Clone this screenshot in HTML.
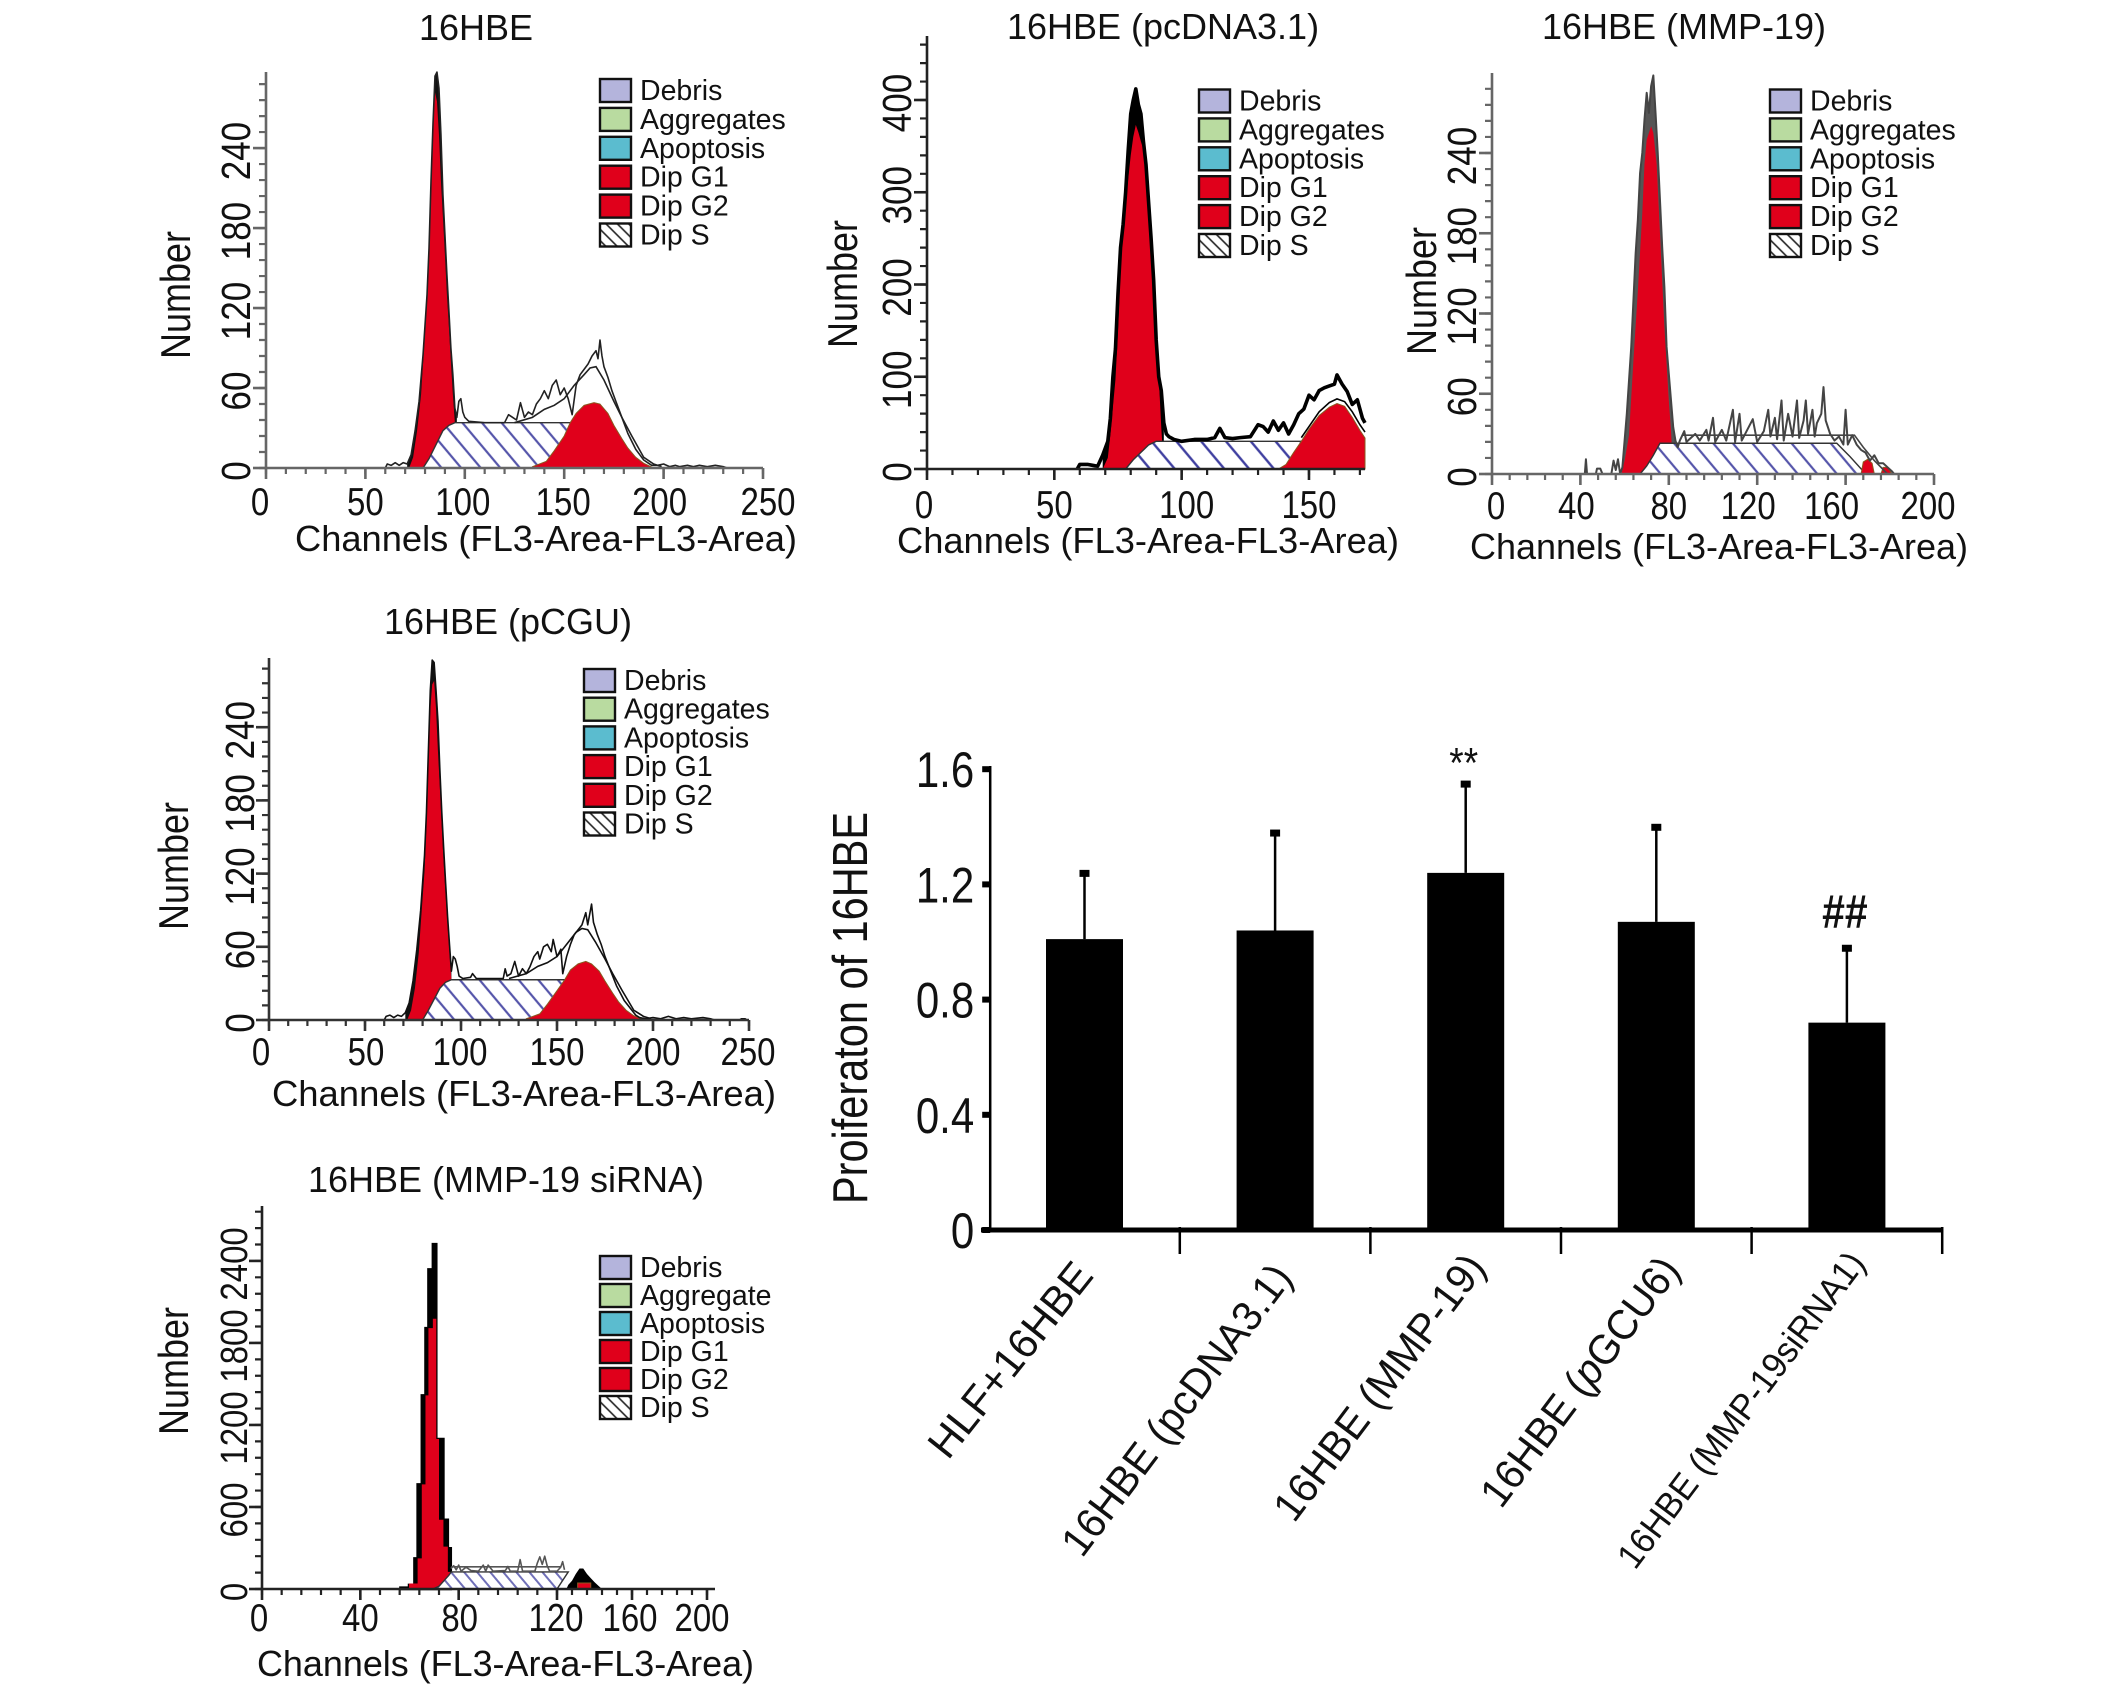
<!DOCTYPE html>
<html lang="en">
<head>
<meta charset="utf-8">
<title>16HBE cell cycle and proliferation</title>
<style>
html,body{margin:0;padding:0;background:#fff;}
svg{display:block;font-family:"Liberation Sans",Arial,sans-serif;fill:#111;}
.ttl{font-size:36px;text-anchor:middle;}
.axt{font-size:36px;}
.leg{font-size:28.5px;}
.sw{stroke:#111;stroke-width:2.4;}
.deb{fill:#b4b4dc;}.agg{fill:#b9dba0;}.apo{fill:#5bbccf;}.red{fill:#e0001b;}.hat{fill:url(#hatchLegend);}
.cat{font-size:42px;}
</style>
</head>
<body>
<svg id="fig" xmlns="http://www.w3.org/2000/svg" width="2126" height="1691" viewBox="0 0 2126 1691">
<defs>
<pattern id="hatchS" width="15" height="15" patternUnits="userSpaceOnUse" patternTransform="rotate(-40)"><rect width="15" height="15" fill="#fff"/><line x1="7.5" y1="0" x2="7.5" y2="15" stroke="#5555aa" stroke-width="2.2"/></pattern>
<pattern id="hatchWide" width="19" height="19" patternUnits="userSpaceOnUse" patternTransform="rotate(-40)"><rect width="19" height="19" fill="#fff"/><line x1="9.5" y1="0" x2="9.5" y2="19" stroke="#3f3fa0" stroke-width="2.4"/></pattern>
<pattern id="hatchFine" width="10" height="10" patternUnits="userSpaceOnUse" patternTransform="rotate(-40)"><rect width="10" height="10" fill="#fff"/><line x1="5" y1="0" x2="5" y2="10" stroke="#7070b8" stroke-width="2"/></pattern>
<pattern id="hatchLegend" width="8" height="8" patternUnits="userSpaceOnUse" patternTransform="rotate(-45)"><rect width="8" height="8" fill="#fff"/><line x1="4" y1="0" x2="4" y2="8" stroke="#222" stroke-width="1.6"/></pattern>
</defs>

<g id="panel-a">
<text class="ttl" x="476" y="40">16HBE</text>
<text class="axt" text-anchor="middle" transform="translate(190,295) rotate(-90) scale(1,1.15)">Number</text>
<text class="axt" x="295" y="551" textLength="502" lengthAdjust="spacingAndGlyphs">Channels (FL3-Area-FL3-Area)</text>
<g class="marks"></g>
<g transform="translate(600,79)">
<g><rect class="sw deb" width="31" height="23"/><text class="leg" x="40" y="21">Debris</text></g>
<g transform="translate(0,28.9)"><rect class="sw agg" width="31" height="23"/><text class="leg" x="40" y="21">Aggregates</text></g>
<g transform="translate(0,57.8)"><rect class="sw apo" width="31" height="23"/><text class="leg" x="40" y="21">Apoptosis</text></g>
<g transform="translate(0,86.7)"><rect class="sw red" width="31" height="23"/><text class="leg" x="40" y="21">Dip G1</text></g>
<g transform="translate(0,115.6)"><rect class="sw red" width="31" height="23"/><text class="leg" x="40" y="21">Dip G2</text></g>
<g transform="translate(0,144.5)"><rect class="sw hat" width="31" height="23"/><text class="leg" x="40" y="21">Dip S</text></g>
</g>
</g>

<g id="panel-b">
<text class="ttl" x="1163" y="39">16HBE (pcDNA3.1)</text>
<text class="axt" text-anchor="middle" transform="translate(857,284) rotate(-90) scale(1,1.15)">Number</text>
<text class="axt" x="897" y="553" textLength="502" lengthAdjust="spacingAndGlyphs">Channels (FL3-Area-FL3-Area)</text>
<g class="marks"></g>
<g transform="translate(1199,89.5)">
<g><rect class="sw deb" width="31" height="23"/><text class="leg" x="40" y="21">Debris</text></g>
<g transform="translate(0,28.9)"><rect class="sw agg" width="31" height="23"/><text class="leg" x="40" y="21">Aggregates</text></g>
<g transform="translate(0,57.8)"><rect class="sw apo" width="31" height="23"/><text class="leg" x="40" y="21">Apoptosis</text></g>
<g transform="translate(0,86.7)"><rect class="sw red" width="31" height="23"/><text class="leg" x="40" y="21">Dip G1</text></g>
<g transform="translate(0,115.6)"><rect class="sw red" width="31" height="23"/><text class="leg" x="40" y="21">Dip G2</text></g>
<g transform="translate(0,144.5)"><rect class="sw hat" width="31" height="23"/><text class="leg" x="40" y="21">Dip S</text></g>
</g>
</g>

<g id="panel-c">
<text class="ttl" x="1684" y="39">16HBE (MMP-19)</text>
<text class="axt" text-anchor="middle" transform="translate(1436,291) rotate(-90) scale(1,1.15)">Number</text>
<text class="axt" x="1470" y="559" textLength="498" lengthAdjust="spacingAndGlyphs">Channels (FL3-Area-FL3-Area)</text>
<g class="marks"></g>
<g transform="translate(1770,89.5)">
<g><rect class="sw deb" width="31" height="23"/><text class="leg" x="40" y="21">Debris</text></g>
<g transform="translate(0,28.9)"><rect class="sw agg" width="31" height="23"/><text class="leg" x="40" y="21">Aggregates</text></g>
<g transform="translate(0,57.8)"><rect class="sw apo" width="31" height="23"/><text class="leg" x="40" y="21">Apoptosis</text></g>
<g transform="translate(0,86.7)"><rect class="sw red" width="31" height="23"/><text class="leg" x="40" y="21">Dip G1</text></g>
<g transform="translate(0,115.6)"><rect class="sw red" width="31" height="23"/><text class="leg" x="40" y="21">Dip G2</text></g>
<g transform="translate(0,144.5)"><rect class="sw hat" width="31" height="23"/><text class="leg" x="40" y="21">Dip S</text></g>
</g>
</g>

<g id="panel-d">
<text class="ttl" x="508" y="634">16HBE (pCGU)</text>
<text class="axt" text-anchor="middle" transform="translate(188,866) rotate(-90) scale(1,1.15)">Number</text>
<text class="axt" x="272" y="1106" textLength="504" lengthAdjust="spacingAndGlyphs">Channels (FL3-Area-FL3-Area)</text>
<g class="marks"></g>
<g transform="translate(584,669)">
<g><rect class="sw deb" width="31" height="23"/><text class="leg" x="40" y="21">Debris</text></g>
<g transform="translate(0,28.7)"><rect class="sw agg" width="31" height="23"/><text class="leg" x="40" y="21">Aggregates</text></g>
<g transform="translate(0,57.4)"><rect class="sw apo" width="31" height="23"/><text class="leg" x="40" y="21">Apoptosis</text></g>
<g transform="translate(0,86.1)"><rect class="sw red" width="31" height="23"/><text class="leg" x="40" y="21">Dip G1</text></g>
<g transform="translate(0,114.8)"><rect class="sw red" width="31" height="23"/><text class="leg" x="40" y="21">Dip G2</text></g>
<g transform="translate(0,143.5)"><rect class="sw hat" width="31" height="23"/><text class="leg" x="40" y="21">Dip S</text></g>
</g>
</g>

<g id="panel-e">
<text class="ttl" x="506" y="1192">16HBE (MMP-19 siRNA)</text>
<text class="axt" text-anchor="middle" transform="translate(188,1371) rotate(-90) scale(1,1.15)">Number</text>
<text class="axt" x="257" y="1676" textLength="497" lengthAdjust="spacingAndGlyphs">Channels (FL3-Area-FL3-Area)</text>
<g class="marks"></g>
<g transform="translate(600,1256)">
<g><rect class="sw deb" width="31" height="23"/><text class="leg" x="40" y="21">Debris</text></g>
<g transform="translate(0,28)"><rect class="sw agg" width="31" height="23"/><text class="leg" x="40" y="21">Aggregate</text></g>
<g transform="translate(0,56)"><rect class="sw apo" width="31" height="23"/><text class="leg" x="40" y="21">Apoptosis</text></g>
<g transform="translate(0,84)"><rect class="sw red" width="31" height="23"/><text class="leg" x="40" y="21">Dip G1</text></g>
<g transform="translate(0,112)"><rect class="sw red" width="31" height="23"/><text class="leg" x="40" y="21">Dip G2</text></g>
<g transform="translate(0,140)"><rect class="sw hat" width="31" height="23"/><text class="leg" x="40" y="21">Dip S</text></g>
</g>
</g>

<g id="bar-chart">
<text font-size="41" text-anchor="middle" textLength="392" lengthAdjust="spacingAndGlyphs" transform="translate(867,1008) rotate(-90) scale(1,1.2)">Proiferaton of 16HBE</text>
<g class="marks"></g>
<text class="cat" transform="translate(948,1461) rotate(-51.5)" textLength="236" lengthAdjust="spacingAndGlyphs">HLF+16HBE</text>
<text class="cat" transform="translate(1082,1559) rotate(-53)" textLength="352" lengthAdjust="spacingAndGlyphs">16HBE (pcDNA3.1)</text>
<text class="cat" transform="translate(1294,1524) rotate(-53)" textLength="321" lengthAdjust="spacingAndGlyphs">16HBE (MMP-19)</text>
<text class="cat" transform="translate(1501,1510) rotate(-53)" textLength="300" lengthAdjust="spacingAndGlyphs">16HBE (<tspan font-style="italic">p</tspan>GCU6)</text>
<text class="cat" style="font-size:36px" transform="translate(1635,1571) rotate(-53)" textLength="385" lengthAdjust="spacingAndGlyphs">16HBE (MMP-19siRNA1)</text>
</g>
</svg>

<script>
// ---- Panel A: 16HBE ([channel, count] readings) ----
const aXTicks = [0, 50, 100, 150, 200, 250];
const aYTicks = [0, 60, 120, 180, 240];
const aOutline = [[60,0],[61,3],[63,2],[65,4],[67,2],[69,4],[71,3],[73,10],[75,28],[77,50],[79,85],[81,130],[82,165],[83,215],[84,258],[85,294],[86,297],[87,285],[88,250],[89,205],[90,175],[91,145],[92,118],[93,90],[94,70],[95,45],[96,38],[97,50],[98,52],[99,42],[100,38],[102,35],[110,34],[120,34],[122,40],[124,38],[126,36],[128,49],[130,38],[132,42],[134,40],[136,48],[138,52],[140,58],[142,52],[144,62],[146,66],[148,55],[150,60],[152,52],[154,40],[156,62],[158,70],[160,74],[162,78],[164,84],[166,88],[167,82],[168,96],[169,84],[170,76],[172,68],[174,58],[176,50],[178,42],[180,34],[182,26],[184,20],[186,14],[188,10],[190,6],[192,4],[194,2],[197,2],[200,3],[203,1],[206,2],[208,1],[212,2],[215,1],[218,2],[222,1],[226,2],[230,1],[232,0]];
const aFit = [[125,34],[134,38],[140,44],[145,47],[150,52],[155,62],[160,70],[163,75],[166,76],[170,66],[175,50],[179,38],[184,24],[190,8],[195,3],[199,1]];
const aG1 = [[72,0],[74,8],[76,28],[78,55],[79,79],[81,125],[82,161],[83,215],[84,265],[85,282],[86,275],[87,250],[88,215],[89,188],[90,160],[91,130],[92,106],[93,80],[94,55],[95,34],[96,0]];
const aS = [[79,0],[82,7],[85,16],[89,28],[92,32],[95,34],[153,34],[153,0]];
const aG2 = [[134,1],[141,5],[145,13],[150,24],[153,34],[156,41],[160,47],[165,49],[168,48],[172,41],[175,32],[179,22],[182,15],[186,8],[190,3.5],[195,0]];

// ---- Panel B: 16HBE (pcDNA3.1) ----
const bXTicks = [0, 50, 100, 150];
const bYTicks = [0, 100, 200, 300, 400];
const bOutline = [[59,0],[60,5],[63,5],[65,4],[67,3],[69,15],[71,30],[72,55],[73,100],[74,130],[75,190],[76,240],[77,265],[78,300],[79,345],[80,385],[81,400],[82,412],[83,395],[84,385],[85,355],[86,330],[87,290],[88,250],[89,205],[90,140],[91,100],[92,85],[93,50],[94,38],[95,35],[97,32],[100,30],[105,32],[110,32],[113,34],[115,44],[117,34],[120,33],[123,34],[127,35],[130,48],[132,46],[134,40],[136,52],[138,42],[140,50],[142,38],[144,48],[146,60],[148,65],[150,80],[152,75],[154,85],[156,88],[158,90],[160,92],[161,102],[163,92],[165,84],[167,70],[169,75],[171,55],[172,50]];
const bFit = [[147,34],[150,46],[154,62],[158,72],[161,76],[164,73],[167,62],[170,48],[172,40]];
const bG1 = [[69,0],[71,12],[72,37],[74,97],[75,150],[76,215],[77,260],[79,314],[80,340],[81,360],[82,373],[83,365],[84,355],[85,346],[86,310],[87,275],[88,235],[89,195],[90,156],[91,100],[92,45],[93,0]];
const bS = [[78,0],[81,10],[84,18],[87,26],[90,30],[147,30],[147,0]];
const bG2 = [[138,0],[141,5],[144,18],[147,30],[150,43],[154,58],[158,67],[161,71],[164,68],[167,56],[170,42],[172,33.6],[172,0]];

// ---- Panel C: 16HBE (MMP-19) ----
const cXTicks = [0, 40, 80, 120, 160, 200];
const cYTicks = [0, 60, 120, 180, 240];
const cOutline = [[42,0],[42.5,11],[43,0],[47,0],[47.5,4],[49,4],[50,0],[54,0],[55,10],[56,3],[57,11],[58,0],[59,5],[60,25],[61,45],[62,70],[63,95],[64,130],[65,165],[66,190],[67,225],[68,240],[69,265],[70,285],[71,270],[72,290],[73,298],[74,270],[75,240],[76,205],[77,170],[78,140],[79,95],[80,75],[81,55],[82,35],[83,25],[84,20],[85,25],[87,32],[88,24],[92,30],[94,25],[97,33],[98,25],[100,42],[101,24],[104,33],[106,25],[109,48],[110,24],[112,45],[113,25],[118,41],[120,24],[123,32],[125,48],[126,28],[128,42],[129,26],[131,55],[132,25],[134,45],[136,28],[138,55],[139,27],[141,40],[142,55],[143,30],[145,48],[146,28],[147,38],[149,45],[150,65],[151,40],[153,30],[155,25],[157,28],[159,22],[160,48],[161,22],[163,29],[165,22],[167,18],[169,16],[171,10],[173,14],[175,8],[177,8],[179,5],[181,2],[182,0]];
const cFit = [[86,29],[164,29],[168,20],[173,10],[179,0]];
const cG1 = [[58.5,0],[60,10],[62,29],[64,85],[66,137],[68,195],[69,232],[70,250],[72,260],[73,255],[74.5,232],[76,180],[78,110],[80,55],[81,32],[82,0]];
const cS = [[67,0],[70,6],[73,14],[76,23],[156,23],[162,13],[168,2],[168,0]];
const cG2 = [[167,0],[168,9],[170,11],[172,8],[173,0],[176,0],[177,5],[179,5],[181,0]];

// ---- Panel D: 16HBE (pCGU) ----
const dXTicks = [0, 50, 100, 150, 200, 250];
const dYTicks = [0, 60, 120, 180, 240];
const dOutline = [[60,0],[61,3],[63,4],[65,2],[67,4],[69,3],[71,6],[73,14],[75,32],[77,58],[79,90],[81,135],[82,170],[83,220],[84,270],[85,295],[86,293],[87,270],[88,245],[89,205],[90,170],[91,140],[92,112],[93,85],[94,62],[95,40],[96,52],[97,50],[98,44],[99,36],[101,34],[105,35],[106,38],[108,34],[122,34],[123,42],[124,36],[126,38],[128,48],[130,36],[132,42],[134,38],[136,44],[138,52],[140,56],[141,50],[143,60],[145,62],[147,56],[148,66],[150,52],[152,58],[153,38],[155,52],[157,62],[159,70],[161,74],[163,78],[165,88],[166,78],[168,95],[169,80],[171,70],[173,62],[175,52],[177,44],[179,36],[181,28],[183,22],[185,16],[187,12],[189,8],[191,4],[193,2],[196,1],[200,2],[204,1],[208,3],[212,1],[216,2],[220,1],[226,2],[230,1],[232,0],[245,0],[246,1],[248,1],[249,0]];
const dFit = [[125,34],[134,38],[140,44],[145,47],[150,52],[155,62],[160,72],[163,75],[166,74],[170,64],[175,50],[179,38],[184,24],[190,8],[195,3],[199,1]];
const dG1 = [[72,0],[74,8],[76,26],[78,55],[79,78],[81,122],[82,160],[83,210],[84,255],[85,275],[86,278],[87,255],[88,220],[89,190],[90,158],[91,128],[92,102],[93,78],[94,55],[95,33],[96,0]];
const dS = [[80,0],[83,8],[86,17],[89,26],[92,31],[95,33],[154,33],[154,0]];
const dG2 = [[134,1],[141,5],[145,13],[150,24],[154,33],[157,41],[161,46],[165,48],[168,46],[172,40],[175,32],[179,22],[182,15],[186,8],[190,3.5],[195,0]];

// ---- Panel E: 16HBE (MMP-19 siRNA) ----
const eXTicks = [0, 40, 80, 120, 160, 200];
const eYTicks = [0, 600, 1200, 1800, 2400];
const eOutline = [[56.3,10],[59.8,30],[62,224],[63.3,765],[65,1416],[66.5,1908],[67.7,2338],[69.5,2523],[70.9,1097],[73.8,507],[75.6,298],[76.8,0]];
const eG1 = [[59.8,40],[63.3,224],[65,765],[66.5,1416],[67.7,1908],[69.5,1977],[70.9,1097],[72,507],[73.8,310],[75.6,125],[76.5,0]];
const eS = [[69.5,0],[72,20],[74,60],[76,100],[77,125],[126,125],[120,0]];
const eFit = [[77,162],[122,162]];
const eNoise = [[76.8,150],[78,170],[79,140],[80,175],[81,130],[83,160],[85,135],[88,130],[90,175],[91,130],[92,175],[94,130],[99,135],[100,165],[101,130],[104,130],[105,215],[106,130],[111,130],[112,190],[113,235],[114,180],[115,240],[116,170],[117,130],[120,130],[122,160],[123,200],[124,140]];
const eTail = [[125,0],[126,30],[128,60],[130,110],[132,150],[134,150],[136,110],[138,80],[140,50],[142,25],[144,0]];
const eG2 = [[131,0],[131,44],[138,44],[138,0]];

// ---- Bar chart ----
const barCategories = ['HLF+16HBE', '16HBE (pcDNA3.1)', '16HBE (MMP-19)', '16HBE (pGCU6)', '16HBE (MMP-19siRNA1)'];
const barValues = [1.01, 1.04, 1.24, 1.07, 0.72];
const barErrorTops = [1.24, 1.38, 1.55, 1.40, 0.98];
const barSignificance = ['', '', '**', '', '##'];
const barYTicks = ['0', '0.4', '0.8', '1.2', '1.6'];

const NS = 'http://www.w3.org/2000/svg';
function mk(parent, tag, props, text) {
  const el = document.createElementNS(NS, tag);
  for (const k in props) el.setAttribute(k, props[k]);
  if (text !== undefined) el.textContent = text;
  parent.appendChild(el);
  return el;
}
function areaD(pts, x, y, step) {
  let d = 'M' + x(pts[0][0]) + ' ' + y(0);
  let prev = 0;
  pts.forEach(function (p) {
    if (step) d += ' L' + x(p[0]) + ' ' + y(prev);
    d += ' L' + x(p[0]) + ' ' + y(p[1]);
    prev = p[1];
  });
  return d + ' L' + x(pts[pts.length - 1][0]) + ' ' + y(0) + ' Z';
}
function lineD(pts, x, y) {
  return pts.map(function (p, i) { return (i ? 'L' : 'M') + x(p[0]) + ' ' + y(p[1]); }).join(' ');
}

function drawPanel(c) {
  const root = document.querySelector('#panel-' + c.id + ' .marks');
  const x = function (v) {
    for (let i = 1; i < c.domain.length; i++) {
      if (v <= c.domain[i] || i === c.domain.length - 1) {
        return c.range[i - 1] + (v - c.domain[i - 1]) * (c.range[i] - c.range[i - 1]) / (c.domain[i] - c.domain[i - 1]);
      }
    }
  };
  const y = function (v) { return c.base - v * c.k; };
  const x0 = c.range[0], xEnd = c.range[c.range.length - 1];

  if (c.fillOutline) {
    const fill = mk(root, 'path', { d: areaD(c.outline, x, y, true), fill: '#000', stroke: '#000', 'stroke-width': 2.5 });
    
    
  }
  if (c.peakEnd) {
    const body = c.lineData.filter(function (p) { return p[0] <= c.peakEnd && p[1] > 0 && p[0] >= c.peakStart; });
    const peak = mk(root, 'path', { d: areaD(body, x, y, false), fill: c.peakFill });
    
    
  }
  const g1 = mk(root, 'path', { d: areaD(c.g1, x, y, c.fillOutline), fill: '#e0001b' });
  
  
  const s = mk(root, 'path', { d: areaD(c.s, x, y, false), fill: 'url(#' + c.hatch + ')', stroke: '#333', 'stroke-width': 1.4 });
  
  
  if (c.tail) {
    const tail = mk(root, 'path', { d: areaD(c.tail, x, y, false), fill: '#000' });
    
    
  }
  const g2 = mk(root, 'path', { d: areaD(c.g2, x, y, false), fill: '#e0001b', stroke: '#8a5a20', 'stroke-width': 1 });
  
  
  if (c.fit) {
    const fit = mk(root, 'path', { d: lineD(c.fit, x, y), fill: 'none', stroke: c.lineColor, 'stroke-width': 1.6 });
    
    
  }
  if (c.lineData) {
    const ln = mk(root, 'path', { d: lineD(c.lineData, x, y), fill: 'none', stroke: c.lineColor, 'stroke-width': c.lineWidth, 'stroke-linejoin': 'round' });
    
    
  }

  // axes
  const axis = mk(root, 'path', { d: 'M' + x0 + ' ' + c.top + ' L' + x0 + ' ' + c.base + ' L' + xEnd + ' ' + c.base, fill: 'none', stroke: c.axisColor, 'stroke-width': 2.6 });
  
  
  let minor = '';
  for (let v = 0; y(v) >= c.top; v += c.minorY) minor += 'M' + (x0 - 7) + ' ' + y(v) + ' L' + x0 + ' ' + y(v) + ' ';
  for (let v = 0; x(v) <= xEnd + 0.5; v += c.minorX) minor += 'M' + x(v) + ' ' + c.base + ' L' + x(v) + ' ' + (c.base + 6) + ' ';
  const mt = mk(root, 'path', { d: minor, stroke: c.axisColor, 'stroke-width': 2.2, fill: 'none' });
  
  

  c.xTicks.forEach(function (t, i) {
    const tick = mk(root, 'line', { x1: x(t), x2: x(t), y1: c.base, y2: c.base + 11, stroke: c.axisColor, 'stroke-width': 2.6 });
    
    
    const lab = mk(root, 'text', { transform: 'translate(' + (x(t) + c.xLabelDx[i]) + ',' + c.xLabelY + ') scale(1,1.18)', 'font-size': 33, 'text-anchor': 'middle' }, String(t));
    
    
  });
  c.yTicks.forEach(function (t) {
    const tick = mk(root, 'line', { x1: x0 - 13, x2: x0, y1: y(t), y2: y(t), stroke: c.axisColor, 'stroke-width': 2.6 });
    
    
    const lab = mk(root, 'text', { transform: 'translate(' + c.yLabelX + ',' + (y(t) + 3) + ') rotate(-90) scale(1,1.16)', 'font-size': c.yLabelSize, 'text-anchor': 'middle' }, String(t));
    
    
  });
}

drawPanel({ id: 'a', domain: [0, 250], range: [266, 763], base: 468, k: 1.333, top: 72, minorX: 10, minorY: 12,
  xTicks: aXTicks, yTicks: aYTicks, xLabelDx: [-6, 0, -2, -1, -4, 5], xLabelY: 515, yLabelX: 250, yLabelSize: 35,
  lineData: aOutline, peakStart: 71, peakEnd: 96, peakFill: '#111', fit: aFit, g1: aG1, s: aS, g2: aG2, hatch: 'hatchS', lineColor: '#222', lineWidth: 1.6, axisColor: '#666' });
drawPanel({ id: 'b', domain: [0, 172], range: [927, 1365], base: 469, k: 0.9225, top: 36, minorX: 10, minorY: 20,
  xTicks: bXTicks, yTicks: bYTicks, xLabelDx: [-3, 0, 5, 0], xLabelY: 518, yLabelX: 911, yLabelSize: 35,
  lineData: bOutline, peakStart: 69, peakEnd: 93, peakFill: '#000', fit: bFit, g1: bG1, s: bS, g2: bG2, hatch: 'hatchWide', lineColor: '#000', lineWidth: 3.6, axisColor: '#222' });
drawPanel({ id: 'c', domain: [0, 200], range: [1492, 1934], base: 474, k: 1.3375, top: 73, minorX: 8, minorY: 12,
  xTicks: cXTicks, yTicks: cYTicks, xLabelDx: [4, -4, 0, -9, -14, -6], xLabelY: 519, yLabelX: 1476, yLabelSize: 35,
  lineData: cOutline, peakStart: 59, peakEnd: 84, peakFill: '#555', fit: cFit, g1: cG1, s: cS, g2: cG2, hatch: 'hatchS', lineColor: '#444', lineWidth: 2, axisColor: '#666' });
drawPanel({ id: 'd', domain: [0, 250], range: [269, 749], base: 1020, k: 1.22, top: 658, minorX: 10, minorY: 12,
  xTicks: dXTicks, yTicks: dYTicks, xLabelDx: [-8, 1, -1, 0, 0, -1], xLabelY: 1065, yLabelX: 254, yLabelSize: 35,
  lineData: dOutline, peakStart: 71, peakEnd: 95, peakFill: '#111', fit: dFit, g1: dG1, s: dS, g2: dG2, hatch: 'hatchS', lineColor: '#111', lineWidth: 1.6, axisColor: '#333' });
drawPanel({ id: 'e', domain: [0, 120, 200, 204], range: [262, 557, 707, 715], base: 1589, k: 0.1367, top: 1206, minorX: 8, minorY: 120,
  xTicks: eXTicks, yTicks: eYTicks, xLabelDx: [-3, 0, 1, -1, -2, -5], xLabelY: 1631, yLabelX: 247, yLabelSize: 33,
  outline: eOutline, fillOutline: true, lineData: eNoise, fit: eFit, tail: eTail, g1: eG1, s: eS, g2: eG2, hatch: 'hatchFine', lineColor: '#555', lineWidth: 1.6, axisColor: '#222' });

// bar chart
(function () {
  const root = document.querySelector('#bar-chart .marks');
  const yB = function (v) { return 1230 - v * 288; };
  const step = 190.6, left = 989.2, barW = 77;
  const xB = function (i) { return left + (i + 0.5) * step; };

  barValues.forEach(function (v, i) {
    const err = mk(root, 'line', { x1: xB(i), x2: xB(i), y1: yB(barErrorTops[i]), y2: yB(v), stroke: '#000', 'stroke-width': 2.5 });
    
    
    const cap = mk(root, 'rect', { x: xB(i) - 5, y: yB(barErrorTops[i]) - 3, width: 10, height: 7, fill: '#000' });
    
    
    const bar = mk(root, 'rect', { x: xB(i) - barW / 2, y: yB(v), width: barW, height: yB(0) - yB(v), fill: '#000', 'aria-label': barCategories[i] });
    
    
    if (barSignificance[i]) {
      const isStar = barSignificance[i] === '**';
      const sig = mk(root, 'text', { transform: 'translate(' + (xB(i) - 2) + ',' + (yB(barErrorTops[i]) - (isStar ? 6 : 20)) + ') scale(1,1.15)', 'font-size': isStar ? 37 : 41, 'font-weight': isStar ? 'normal' : 'bold', 'text-anchor': 'middle' }, barSignificance[i]);
      
      
    }
  });

  const yAxis = mk(root, 'line', { x1: left + 1, x2: left + 1, y1: 766, y2: yB(0), stroke: '#000', 'stroke-width': 2.5 });
  
  
  const xAxis = mk(root, 'line', { x1: 981, x2: left + step * barValues.length + 1, y1: yB(0), y2: yB(0), stroke: '#000', 'stroke-width': 5 });
  
  
  barCategories.forEach(function (_, i) {
    const t = mk(root, 'line', { x1: left + (i + 1) * step, x2: left + (i + 1) * step, y1: yB(0) - 3, y2: yB(0) + 24, stroke: '#000', 'stroke-width': 2.5 });
    
    
  });
  barYTicks.forEach(function (label) {
    const v = parseFloat(label);
    const t = mk(root, 'rect', { x: left - 7, y: yB(v) - 3, width: 8, height: 6, fill: '#000' });
    
    
    const lab = mk(root, 'text', { transform: 'translate(' + (left - 15) + ',' + (yB(v) + 18) + ') scale(1,1.2)', 'font-size': 42, 'text-anchor': 'end' }, label);
    
    
  });
})();
</script>
</body>
</html>
